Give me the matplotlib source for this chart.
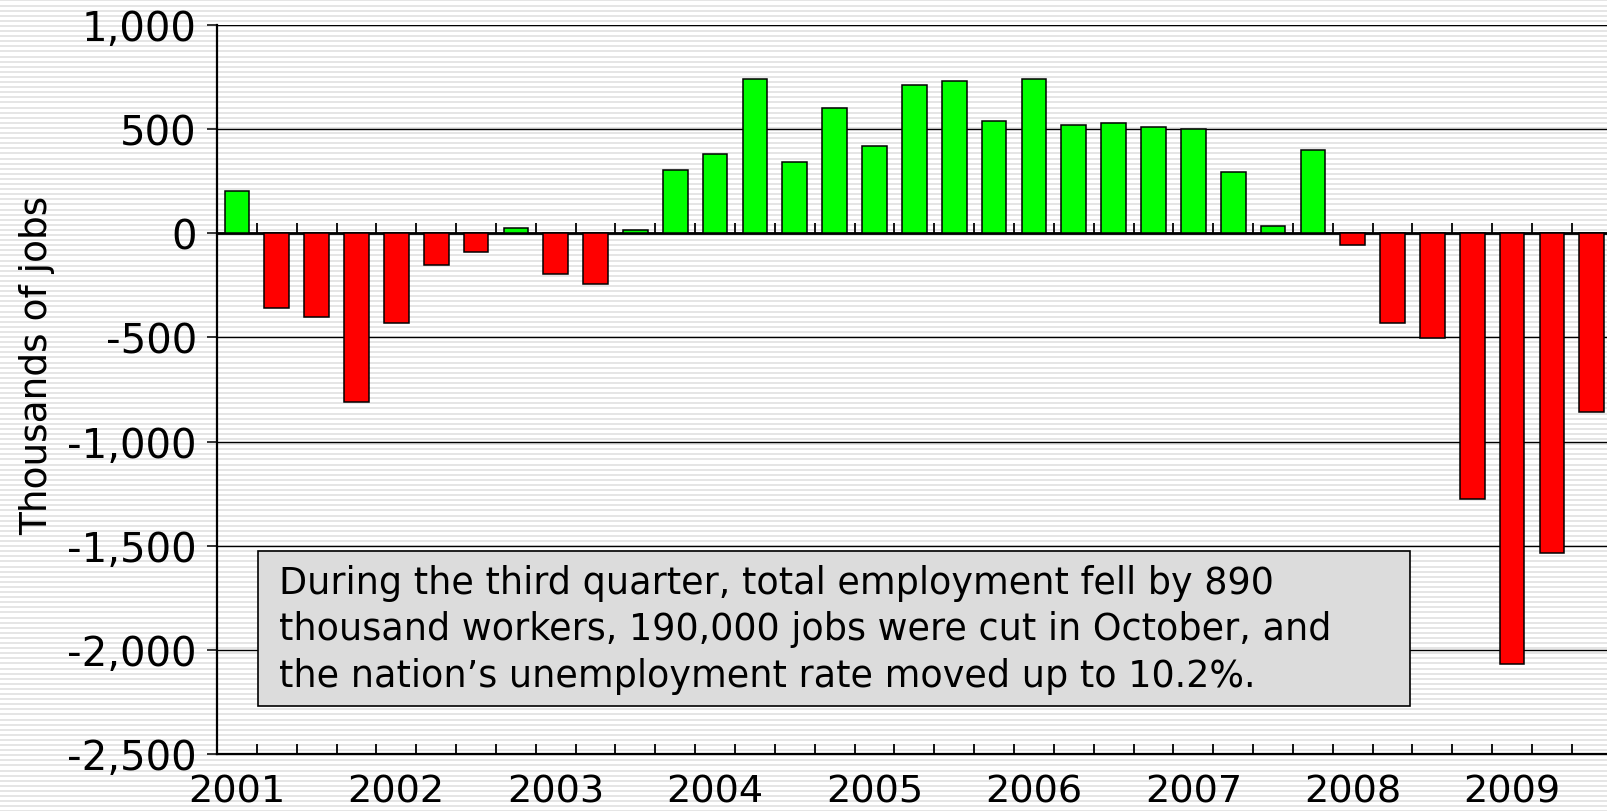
import numpy as np
import matplotlib.pyplot as plt
from matplotlib.patches import Rectangle
from matplotlib.ticker import FuncFormatter, FixedLocator

# quarterly change in employment, thousands of jobs (2001 Q1 .. 2009 Q3)
years = ["2001", "2002", "2003", "2004", "2005", "2006", "2007", "2008", "2009"]
changes = [205, -360, -400, -810,
           -430, -150, -90, 27,
           -195, -244, 17, 303,
           382, 741, 342, 603,
           421, 712, 731, 539,
           741, 520, 530, 510,
           500, 293, 37, 401,
           -56, -431, -505, -1278,
           -2067, -1535, -860]
note = ("During the third quarter, total employment fell by 890\n"
        "thousand workers, 190,000 jobs were cut in October, and\n"
        "the nation\u2019s unemployment rate moved up to 10.2%.")

plt.rcParams['font.family'] = ['DejaVu Sans']

W, H = 1608, 812
fig = plt.figure(figsize=(W / 100, H / 100), dpi=100)

# striped background
rows = np.arange(H)
stripe = (rows % 5.1) < 2.0
bg = np.ones((H, W, 3))
bg[stripe] = 0.90
fig.figimage(bg, xo=0, yo=0, zorder=-10)

# axes run a bit past the right edge, like the original
ax = fig.add_axes([217 / W, 57 / H, 1394.75 / W, 729 / H])
ax.patch.set_alpha(0)

x = np.arange(len(changes))
colors = ['#00ff00' if v >= 0 else '#ff0000' for v in changes]
ax.bar(x, changes, width=0.62, color=colors, edgecolor='black', linewidth=1.1, zorder=3)

ax.set_xlim(-0.5, len(changes) - 0.5)
ax.set_ylim(-2500, 1000)
ax.set_yticks(np.arange(-2500, 1001, 500))
ax.yaxis.set_major_formatter(FuncFormatter(lambda v, p: f"{v:,.0f}"))
ax.tick_params(axis='y', direction='out', length=7.5, width=1.1, labelsize=29, pad=7)
ax.yaxis.grid(True, color='black', linewidth=1.0)
ax.set_axisbelow(True)

# year labels under the first quarter of each year, quarter ticks pointing up
ax.set_xticks(np.arange(0, len(changes), 4))
ax.set_xticklabels(years)
ax.tick_params(axis='x', which='major', length=0, labelsize=27.5, pad=14)
ax.xaxis.set_minor_locator(FixedLocator(np.arange(0.5, len(changes), 1)))
ax.tick_params(axis='x', which='minor', direction='in', length=7.5, width=1.3)

for s in ['top', 'right']:
    ax.spines[s].set_visible(False)
for s in ['left', 'bottom']:
    ax.spines[s].set_linewidth(1.6)

# category axis along zero
zero = ax.secondary_xaxis(0, transform=ax.transData)
zero.set_xticks([])
zero.xaxis.set_minor_locator(FixedLocator(np.arange(0.5, len(changes), 1)))
zero.tick_params(axis='x', which='minor', direction='in', length=7.5, width=1.3)
zero.spines['bottom'].set_linewidth(2.0)

ax.set_ylabel("Thousands of jobs", fontsize=27)
ax.yaxis.set_label_coords(-0.116, 0.535)

# note box
ax.add_patch(Rectangle((0.0294, 0.0658), 0.826, 0.2127, transform=ax.transAxes,
                       facecolor='#dcdcdc', edgecolor='black', linewidth=1.2, zorder=5))
ax.text(0.0445, 0.0933, note, transform=ax.transAxes, fontsize=26.3, va='baseline', ha='left',
        linespacing=1.33, zorder=6)

fig.savefig("out.png", dpi=100)
